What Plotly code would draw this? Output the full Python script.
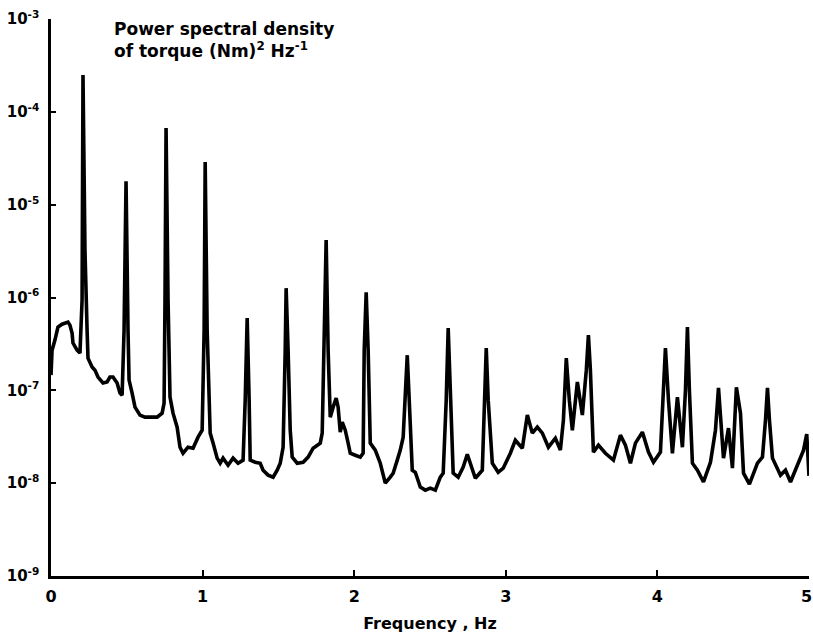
import plotly.graph_objects as go

# Frequency (Hz) and power spectral density of torque ((Nm)^2 Hz^-1)
freq = [
    0.000, 0.007, 0.026, 0.046, 0.073, 0.092, 0.112, 0.125, 0.139, 0.145,
    0.172, 0.191, 0.205, 0.211, 0.224, 0.238, 0.244, 0.271, 0.290, 0.310,
    0.343, 0.370, 0.389, 0.409, 0.436, 0.455, 0.469, 0.482, 0.495, 0.508,
    0.515, 0.535, 0.554, 0.587, 0.620, 0.653, 0.700, 0.733, 0.746, 0.752,
    0.759, 0.772, 0.785, 0.805, 0.832, 0.851, 0.871, 0.904, 0.937, 0.970,
    0.997, 1.010, 1.017, 1.030, 1.050, 1.069, 1.096, 1.116, 1.135, 1.168,
    1.201, 1.234, 1.267, 1.281, 1.294, 1.307, 1.314, 1.347, 1.380, 1.399,
    1.432, 1.465, 1.492, 1.512, 1.531, 1.545, 1.551, 1.564, 1.578, 1.591,
    1.624, 1.663, 1.696, 1.729, 1.762, 1.776, 1.789, 1.802, 1.815, 1.828,
    1.842, 1.861, 1.881, 1.894, 1.908, 1.921, 1.941, 1.960, 1.974, 2.007,
    2.040, 2.059, 2.066, 2.079, 2.092, 2.106, 2.139, 2.172, 2.205, 2.238,
    2.257, 2.284, 2.304, 2.323, 2.337, 2.350, 2.363, 2.383, 2.403, 2.436,
    2.469, 2.502, 2.535, 2.568, 2.587, 2.607, 2.620, 2.634, 2.653, 2.686,
    2.719, 2.746, 2.772, 2.799, 2.845, 2.858, 2.871, 2.884, 2.911, 2.950,
    2.983, 3.030, 3.063, 3.109, 3.142, 3.175, 3.208, 3.241, 3.281, 3.327,
    3.360, 3.380, 3.399, 3.419, 3.439, 3.472, 3.505, 3.531, 3.545, 3.558,
    3.578, 3.611, 3.657, 3.710, 3.756, 3.789, 3.822, 3.855, 3.901, 3.941,
    3.974, 4.020, 4.040, 4.053, 4.073, 4.099, 4.132, 4.165, 4.185, 4.198,
    4.211, 4.231, 4.264, 4.304, 4.350, 4.383, 4.403, 4.436, 4.469, 4.495,
    4.521, 4.548, 4.568, 4.607, 4.660, 4.693, 4.713, 4.726, 4.739, 4.759,
    4.812, 4.845, 4.878, 4.931, 4.964, 4.985, 5.000,
]

psd = [
    1.46e-7, 2.71e-7, 3.48e-7, 4.80e-7, 5.16e-7, 5.30e-7, 5.43e-7, 5.04e-7, 4.13e-7, 3.23e-7,
    2.71e-7, 2.52e-7, 9.38e-7, 2.49e-4, 3.24e-6, 4.45e-7, 2.22e-7, 1.78e-7, 1.65e-7, 1.39e-7,
    1.20e-7, 1.23e-7, 1.39e-7, 1.39e-7, 1.20e-7, 9.33e-8, 8.87e-8, 4.45e-7, 1.79e-5, 4.45e-7,
    1.29e-7, 9.33e-8, 6.59e-8, 5.41e-8, 5.14e-8, 5.14e-8, 5.14e-8, 5.68e-8, 7.28e-8, 9.38e-7,
    6.68e-5, 9.38e-7, 8.45e-8, 5.68e-8, 4.01e-8, 2.44e-8, 2.10e-8, 2.44e-8, 2.38e-8, 3.13e-8,
    3.72e-8, 4.45e-7, 2.88e-5, 4.45e-7, 3.46e-8, 2.70e-8, 1.86e-8, 1.64e-8, 1.86e-8, 1.56e-8,
    1.86e-8, 1.64e-8, 1.77e-8, 7.84e-8, 6.00e-7, 7.84e-8, 1.77e-8, 1.68e-8, 1.64e-8, 1.38e-8,
    1.22e-8, 1.16e-8, 1.38e-8, 1.64e-8, 2.44e-8, 2.71e-7, 1.26e-6, 2.71e-7, 3.72e-8, 1.91e-8,
    1.64e-8, 1.68e-8, 1.91e-8, 2.38e-8, 2.57e-8, 2.70e-8, 3.46e-8, 2.71e-7, 4.16e-6, 2.71e-7,
    5.14e-8, 6.59e-8, 8.24e-8, 6.59e-8, 3.55e-8, 4.54e-8, 3.72e-8, 2.70e-8, 2.10e-8, 2.00e-8,
    1.91e-8, 2.10e-8, 2.71e-7, 1.14e-6, 2.71e-7, 2.70e-8, 2.27e-8, 1.64e-8, 1.00e-8, 1.16e-8,
    1.28e-8, 1.77e-8, 2.27e-8, 3.13e-8, 7.84e-8, 2.39e-7, 7.84e-8, 1.38e-8, 1.31e-8, 9.06e-9,
    8.41e-9, 8.83e-9, 8.41e-9, 1.16e-8, 1.28e-8, 7.84e-8, 4.68e-7, 7.84e-8, 1.28e-8, 1.16e-8,
    1.49e-8, 2.05e-8, 1.49e-8, 1.13e-8, 1.38e-8, 7.84e-8, 2.85e-7, 7.84e-8, 1.64e-8, 1.31e-8,
    1.45e-8, 2.10e-8, 2.90e-8, 2.38e-8, 5.41e-8, 3.46e-8, 4.01e-8, 3.46e-8, 2.44e-8, 3.05e-8,
    2.27e-8, 4.78e-8, 2.22e-7, 7.84e-8, 3.72e-8, 1.23e-7, 5.41e-8, 1.65e-7, 3.94e-7, 1.65e-7,
    2.16e-8, 2.57e-8, 2.10e-8, 1.77e-8, 3.29e-8, 2.57e-8, 1.64e-8, 2.70e-8, 3.55e-8, 2.16e-8,
    1.68e-8, 2.16e-8, 1.00e-7, 2.85e-7, 7.84e-8, 2.10e-8, 8.45e-8, 2.44e-8, 1.00e-7, 4.80e-7,
    1.00e-7, 1.64e-8, 1.38e-8, 1.03e-8, 1.68e-8, 3.72e-8, 1.06e-7, 1.86e-8, 3.92e-8, 1.45e-8,
    1.08e-7, 5.68e-8, 1.28e-8, 9.75e-9, 1.64e-8, 1.91e-8, 4.78e-8, 1.06e-7, 4.78e-8, 1.86e-8,
    1.22e-8, 1.38e-8, 1.03e-8, 1.68e-8, 2.27e-8, 3.37e-8, 1.20e-8,
]

x_ticks = [0, 1, 2, 3, 4, 5]
x_tick_labels = ["0", "1", "2", "3", "4", "5"]
y_ticks = [1e-9, 1e-8, 1e-7, 1e-6, 1e-5, 1e-4, 1e-3]
y_tick_labels = ["10<sup>-9</sup>", "10<sup>-8</sup>", "10<sup>-7</sup>", "10<sup>-6</sup>",
                 "10<sup>-5</sup>", "10<sup>-4</sup>", "10<sup>-3</sup>"]

FONT = "DejaVu Sans"

# the last x label sits at the window edge; a trailing space nudges it inside
x_tick_text = [f"<b>{t}</b>" for t in x_tick_labels]
x_tick_text[-1] = x_tick_text[-1] + "&nbsp;"

fig = go.Figure()
fig.add_trace(go.Scatter(
    x=freq, y=psd, mode="lines",
    line=dict(color="black", width=3.6, shape="linear"),
    showlegend=False, hoverinfo="x+y",
))

fig.update_layout(
    width=813, height=635,
    margin=dict(l=51, r=4, t=19, b=59),
    paper_bgcolor="white", plot_bgcolor="white",
    font=dict(family=FONT, color="black", size=15),
    xaxis=dict(
        range=[0, 5], tickvals=x_ticks, ticktext=x_tick_text,
        ticks="inside", ticklen=6, tickwidth=2, tickcolor="black",
        showline=True, linecolor="black", linewidth=2.5,
        showgrid=False, zeroline=False, automargin=False,
        ticklabeloverflow="allow", ticklabelstandoff=4,
        tickfont=dict(size=16),
        title=dict(text="<b>Frequency , Hz</b>", font=dict(size=16), standoff=13),
    ),
    yaxis=dict(
        type="log", range=[-9, -3], tickvals=y_ticks,
        ticktext=[f"<b>{t}</b>" for t in y_tick_labels],
        ticks="inside", ticklen=5, tickwidth=2, tickcolor="black",
        showline=True, linecolor="black", linewidth=2.5,
        showgrid=False, zeroline=False, automargin=False,
        ticklabeloverflow="allow", ticklabelstandoff=6,
        tickfont=dict(size=15),
    ),
    annotations=[dict(
        text="<b>Power spectral density<br>of torque (Nm)<sup>2</sup> Hz<sup>-1</sup></b>",
        xref="paper", yref="paper", x=0.08, y=1.003,
        xanchor="left", yanchor="top", align="left", showarrow=False,
        font=dict(size=17, family=FONT),
    )],
)

# Remove the page's default body margin so the 813x635 figure fills the window exactly.
fig.write_html(
    "out.html",
    config={"displayModeBar": False},
    post_script="document.body.style.margin='0px';document.body.style.overflow='hidden';",
)
